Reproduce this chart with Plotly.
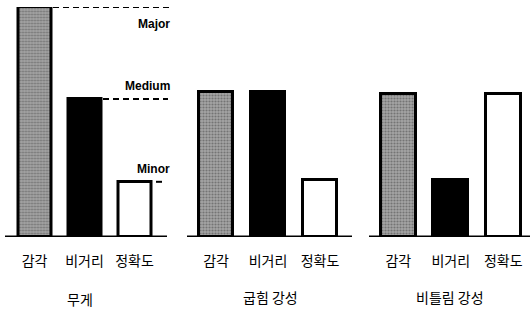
import plotly.graph_objects as go

W, H = 530, 314

categories = ['감각', '비거리', '정확도']
groups = ['무게', '굽힘 강성', '비틀림 강성']
weight = [100, 60, 24]
bending = [63, 63, 25]
torsion = [62, 25, 62]
levels = ['Major', 'Medium', 'Minor']
level_values = [100, 60, 24]

series = [weight, bending, torsion]

def px_x(p):
    return p / W

def px_y(p):
    return (H - p) / H

base_px, top_px = 237, 7
x_domains_px = [(9.5, 159.5), (190, 346), (372, 529.5)]
baseline_px = [(5, 167), (187, 352), (369, 530)]
group_label_px = [(80, 299), (270, 297), (450, 297)]

fig = go.Figure()
colors = ['#a4a4a4', '#000000', '#ffffff']
shapes_pat = ['.', '', '']

for i, vals in enumerate(series):
    xa = 'x' if i == 0 else f'x{i+1}'
    fig.add_trace(go.Bar(
        x=categories, y=vals, xaxis=xa, yaxis='y',
        width=0.66,
        marker=dict(color=colors,
                    line=dict(color='black', width=3),
                    pattern=dict(shape=shapes_pat, fgcolor='#444444',
                                 size=3, solidity=0.4)),
        showlegend=False, hoverinfo='skip'))

layout = dict(
    width=W, height=H,
    margin=dict(l=0, r=0, t=0, b=0),
    paper_bgcolor='white', plot_bgcolor='white',
    bargap=0,
    yaxis=dict(domain=[px_y(base_px), px_y(top_px)], range=[0, 100],
               visible=False, fixedrange=True, automargin=False),
)
for i, (d0, d1) in enumerate(x_domains_px):
    key = 'xaxis' if i == 0 else f'xaxis{i+1}'
    layout[key] = dict(
        domain=[px_x(d0), px_x(d1)], anchor='y',
        type='category', range=[-0.5, 2.5],
        showgrid=False, zeroline=False, showline=False,
        automargin=False, fixedrange=True,
        ticks='outside', ticklen=11, tickcolor='rgba(0,0,0,0)',
        tickfont=dict(family='Noto Sans CJK KR', size=14, color='black'),
    )
fig.update_layout(**layout)

shapes = []
for (a, b) in baseline_px:
    shapes.append(dict(type='line', xref='paper', yref='y',
                       x0=px_x(a), x1=px_x(b), y0=0, y1=0,
                       line=dict(color='black', width=3)))
dash_spans = [(53, 171), (103, 168), (156, 162)]
for (a, b), v in zip(dash_spans, level_values):
    shapes.append(dict(type='line', xref='paper', yref='y',
                       x0=px_x(a), x1=px_x(b), y0=v, y1=v,
                       line=dict(color='black', width=2, dash='6px,4px')))
fig.update_layout(shapes=shapes)

for g, (gx, gy) in zip(groups, group_label_px):
    fig.add_annotation(text=g, xref='paper', yref='paper',
                       x=px_x(gx), y=px_y(gy), xanchor='center', yanchor='middle',
                       showarrow=False,
                       font=dict(family='Noto Sans CJK KR', size=14, color='black'))

yshifts = [-17, 13, 13]
for lab, v, ys in zip(levels, level_values, yshifts):
    fig.add_annotation(text=f'<b>{lab}</b>', xref='paper', yref='y',
                       x=px_x(172), y=v, xanchor='right', yanchor='middle',
                       yshift=ys, showarrow=False,
                       font=dict(family='Liberation Sans Narrow, Liberation Sans, Arial',
                                 size=12, color='black'))

fig.write_html('out.html', config={'displayModeBar': False},
               post_script="document.body.style.margin='0';document.body.style.overflow='hidden';")
